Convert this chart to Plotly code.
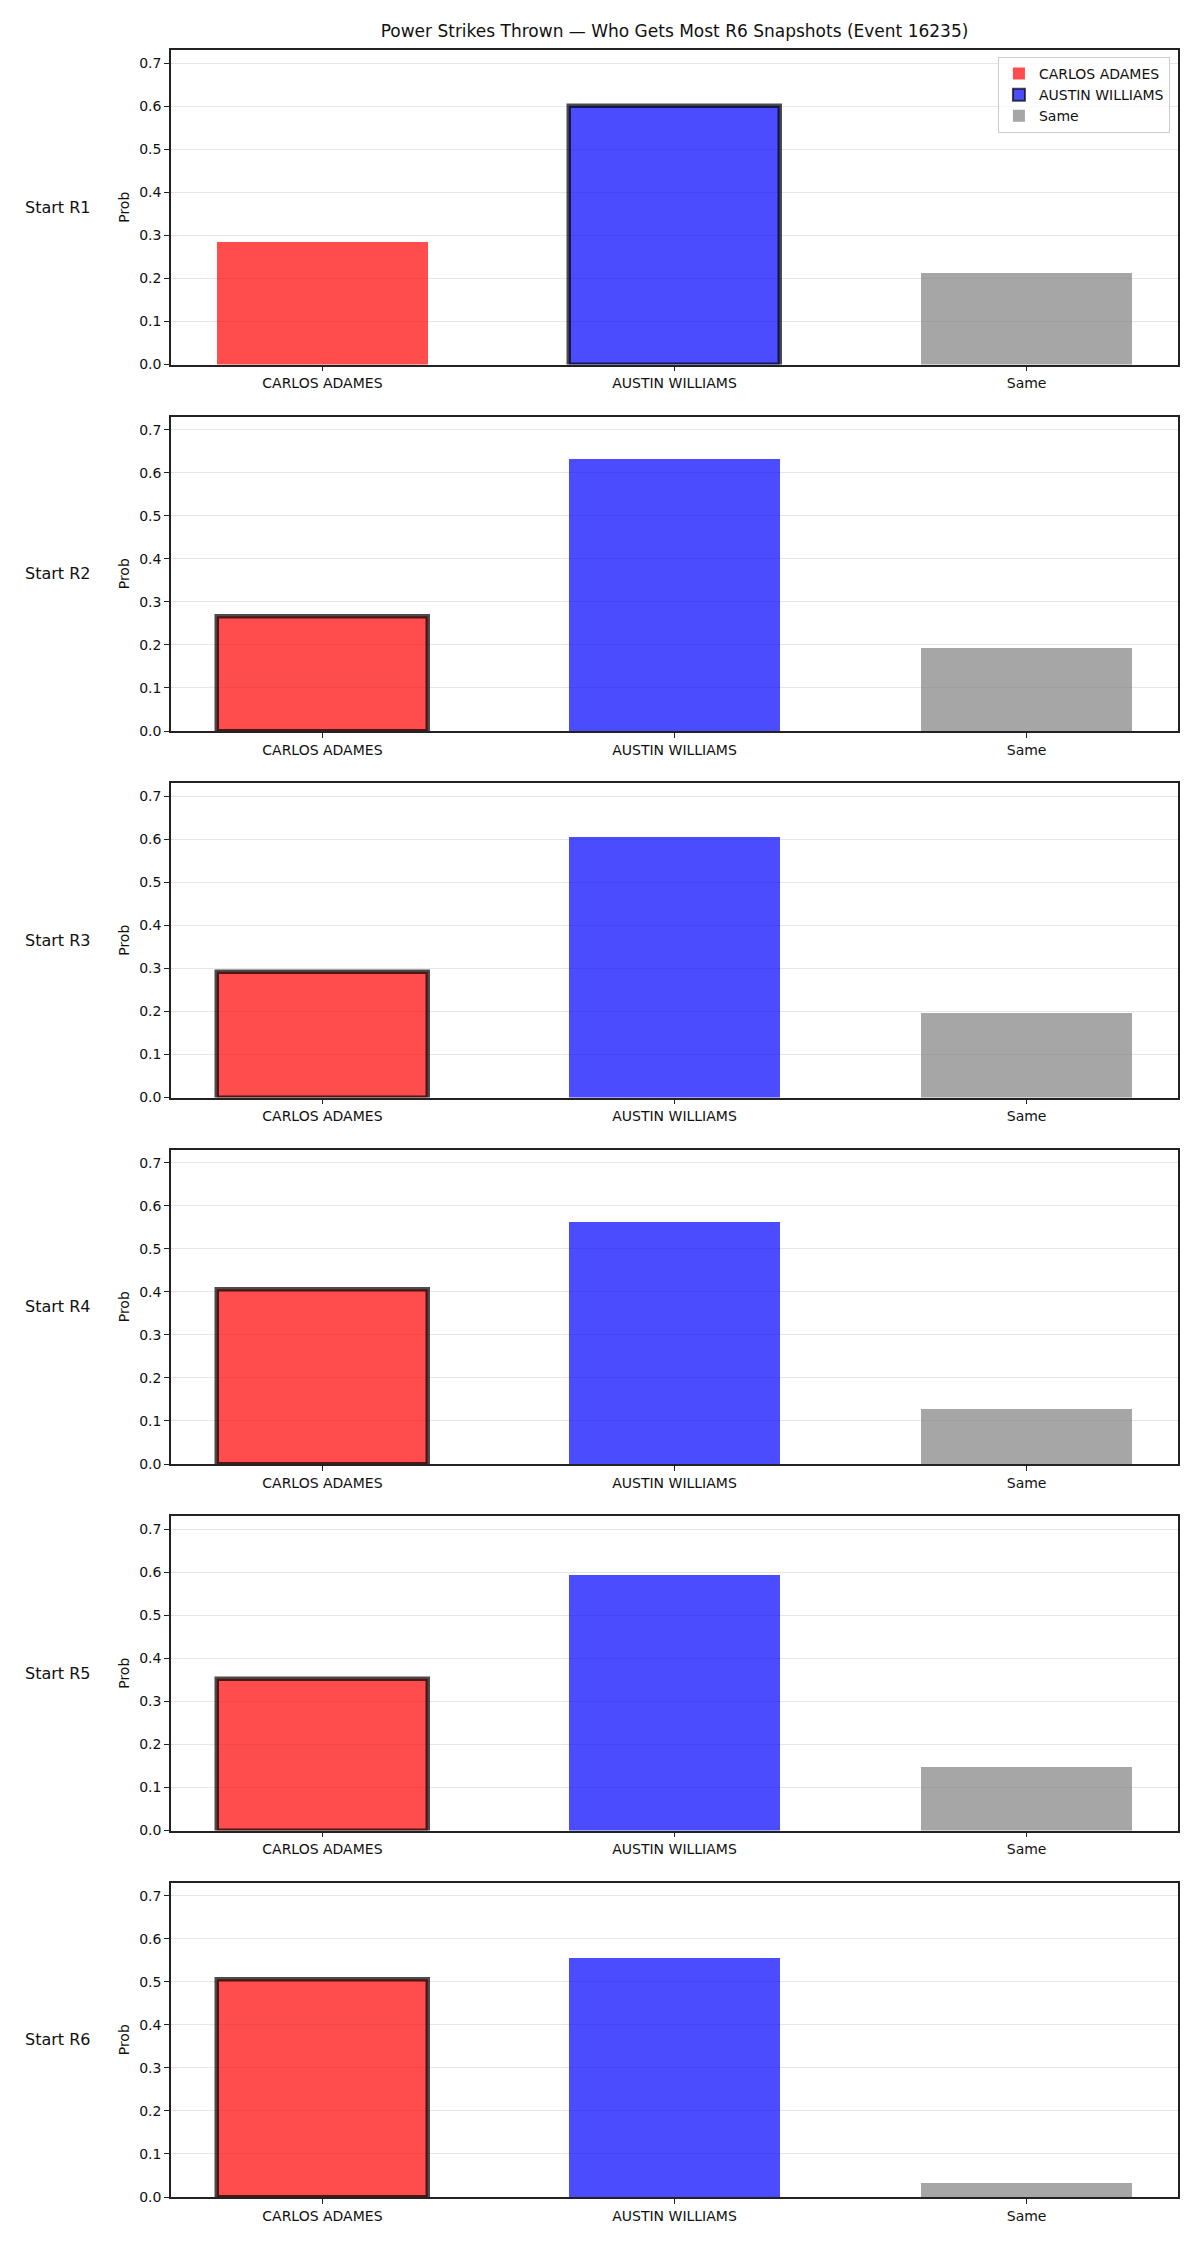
import plotly.graph_objects as go
from plotly.subplots import make_subplots

categories = ["CARLOS ADAMES", "AUSTIN WILLIAMS", "Same"]
start_labels = ["Start R1", "Start R2", "Start R3", "Start R4", "Start R5", "Start R6"]
carlos = [0.285, 0.267, 0.292, 0.405, 0.351, 0.505]
austin = [0.600, 0.633, 0.606, 0.564, 0.594, 0.557]
same = [0.213, 0.195, 0.197, 0.129, 0.147, 0.034]
highlight = [1, 0, 0, 0, 0, 0]  # index of category with dark edge per row
yticks = [0.0, 0.1, 0.2, 0.3, 0.4, 0.5, 0.6, 0.7]
title = "Power Strikes Thrown \u2014 Who Gets Most R6 Snapshots (Event 16235)"

colors = ["rgba(255,0,0,0.7)", "rgba(0,0,255,0.7)", "rgba(128,128,128,0.7)"]
FONT = "DejaVu Sans"

W, H = 1200, 2250
ml, mr, mt, mb = 171, 22, 50, 53
n = len(start_labels)
plot_h = H - mt - mb
gap = 52
vs = gap / plot_h

fig = make_subplots(rows=n, cols=1, vertical_spacing=vs)

for r in range(n):
    vals = [carlos[r], austin[r], same[r]]
    for c in range(3):
        hl = highlight[r] == c
        fig.add_trace(
            go.Bar(
                x=[c], y=[vals[c]], width=0.6, name=categories[c],
                marker=dict(color=colors[c],
                            line=dict(color="rgba(0,0,0,0.7)" if hl else "rgba(255,255,255,0)",
                                      width=4.5 if hl else 0)),
                showlegend=(r == 0), legendgroup=categories[c],
            ),
            row=r + 1, col=1,
        )
    fig.update_xaxes(
        row=r + 1, col=1, range=[-0.43, 2.43], tickmode="array", tickvals=[0, 1, 2],
        ticktext=categories, ticks="outside", ticklen=5, tickwidth=1.2, tickcolor="#222",
        showline=True, linecolor="#222", linewidth=1.5, mirror=True, showgrid=False,
        tickfont=dict(family=FONT, size=14, color="#111"), zeroline=False,
    )
    fig.update_yaxes(
        row=r + 1, col=1, range=[0, 0.7305], tickmode="array", tickvals=yticks,
        ticktext=[f"{v:.1f}" for v in yticks], ticks="outside", ticklen=5, tickwidth=1.2,
        tickcolor="#222", showline=True, linecolor="#222", linewidth=1.5, mirror=True,
        showgrid=True, gridcolor="#e6e6e6", gridwidth=1, zeroline=False,
        tickfont=dict(family=FONT, size=14, color="#111"),
        title=dict(text="Prob", font=dict(family=FONT, size=14, color="#111"), standoff=6),
    )

annotations = []
for r in range(n):
    key = "yaxis" if r == 0 else f"yaxis{r + 1}"
    dom = fig.layout[key].domain
    annotations.append(dict(
        text=start_labels[r], xref="paper", yref="paper", x=(23 - ml) / (W - ml - mr),
        y=(dom[0] + dom[1]) / 2, xanchor="left", yanchor="middle", showarrow=False,
        font=dict(family=FONT, size=16, color="#111"),
    ))

fig.update_layout(
    width=W, height=H, margin=dict(l=ml, r=mr, t=mt, b=mb),
    paper_bgcolor="white", plot_bgcolor="white",
    font=dict(family=FONT, color="#111"),
    title=dict(text=title, x=(ml + (W - ml - mr) / 2) / W, xanchor="center",
               y=1 - 31 / H, yanchor="middle", yref="container",
               font=dict(family=FONT, size=17, color="#111")),
    legend=dict(x=0.992, y=0.9968, xanchor="right", yanchor="top",
                bgcolor="rgba(255,255,255,0.8)", bordercolor="#cccccc", borderwidth=1,
                font=dict(family=FONT, size=14, color="#111"), tracegroupgap=0,
                itemsizing="constant"),
    annotations=annotations,
    bargap=0,
)

fig.write_html("out.html")
